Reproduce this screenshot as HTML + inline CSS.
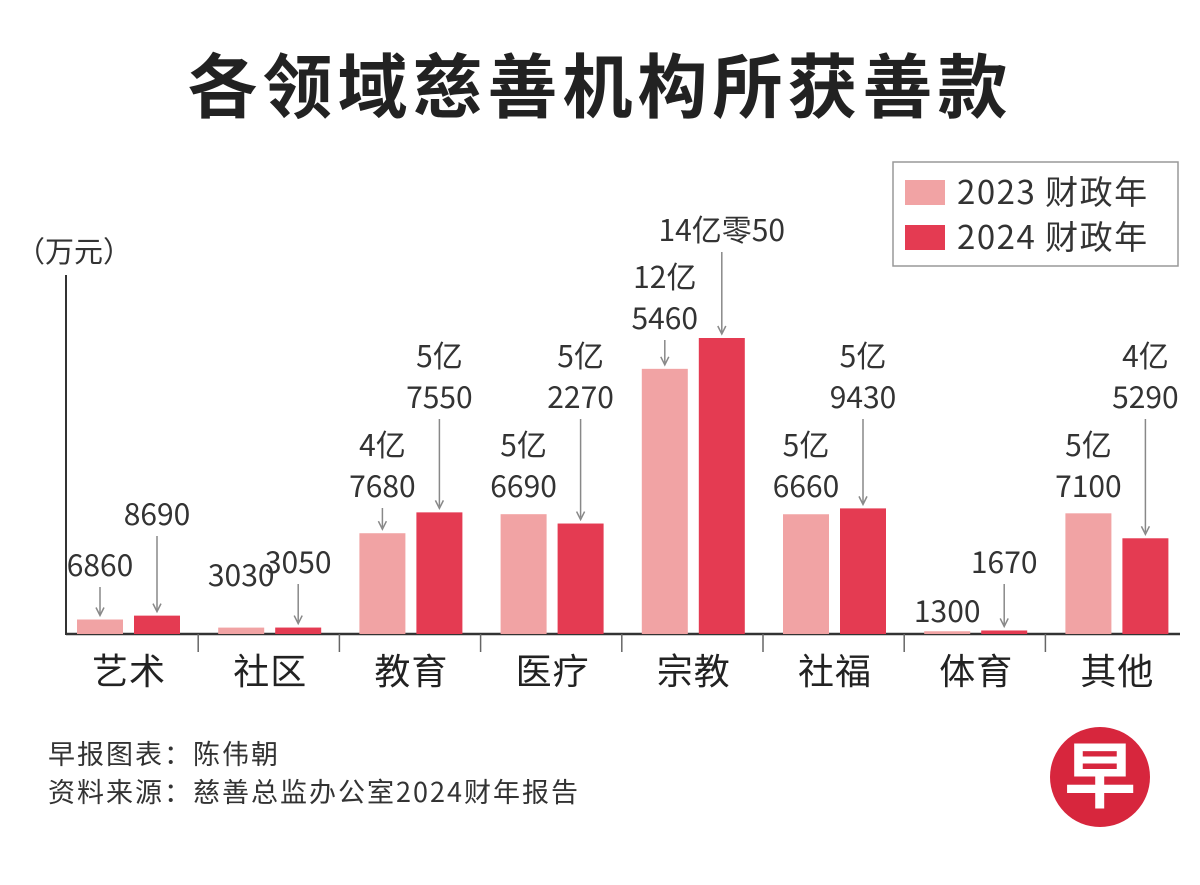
<!DOCTYPE html>
<html><head><meta charset="utf-8">
<style>
body{margin:0;background:#fff;width:1200px;height:880px;overflow:hidden;font-family:"Noto Sans CJK SC",sans-serif;}
</style></head>
<body>
<svg id="chart" width="1200" height="880" viewBox="0 0 1200 880" xmlns="http://www.w3.org/2000/svg" font-family="Noto Sans CJK SC, sans-serif">
<text x="600" y="112" text-anchor="middle" font-size="70" font-weight="bold" letter-spacing="5" fill="#222">各领域慈善机构所获善款</text>
<text x="16" y="262" font-size="29" fill="#333">（万元）</text>
<g>
<rect x="893" y="162" width="285" height="104" fill="#fff" stroke="#999" stroke-width="1.5"/>
<rect x="905" y="180" width="40" height="25" fill="#f1a3a4"/>
<text x="957" y="204" font-size="33" letter-spacing="1.5" fill="#333">2023 财政年</text>
<rect x="905" y="225" width="40" height="25" fill="#e43b52"/>
<text x="957" y="249" font-size="33" letter-spacing="1.5" fill="#333">2024 财政年</text>
</g>
<g id="plot"></g>
<text x="48" y="764" font-size="27" letter-spacing="2" fill="#333">早报图表：陈伟朝</text>
<text x="48" y="802" font-size="27" letter-spacing="2" fill="#333">资料来源：慈善总监办公室2024财年报告</text>
<g>
<circle cx="1100" cy="777" r="50" fill="#d7263d"/>
<text x="1100" y="802" text-anchor="middle" font-size="72" font-weight="bold" fill="#fff">早</text>
</g>
</svg>
<script>
const categories = ["艺术","社区","教育","医疗","宗教","社福","体育","其他"];
const values2023 = [6860, 3030, 47680, 56690, 125460, 56660, 1300, 57100];
const values2024 = [8690, 3050, 57550, 52270, 140050, 59430, 1670, 45290];
// layout: center y of last label line per bar, and arrow visibility
const labelY2023 = [565, 575, 486, 486, 318, 486, 611, 486];
const labelY2024 = [514, 562, 397, 397, 230, 397, 562, 397];
const arrow2023 = [1, 0, 1, 0, 1, 0, 0, 0];
const arrow2024 = [1, 1, 1, 1, 1, 1, 1, 1];

const NS = "http://www.w3.org/2000/svg";
const plot = document.getElementById('plot');
const baseY = 634, axisX = 66, groupStart = 77, groupStep = 141.2, barW = 46, barGap = 57;
const yScale = v => baseY - v * (296 / 140050);
function mk(tag, attrs){const e=document.createElementNS(NS,tag);for(const k in attrs)e.setAttribute(k,attrs[k]);plot.appendChild(e);return e;}
function fmt(v){
  const yi=Math.floor(v/10000), wan=v%10000;
  if(yi===0) return [String(wan)];
  if(wan<1000) return [yi+"亿零"+wan];
  return [yi+"亿", String(wan)];
}
const ya = mk('line',{x1:axisX,y1:275,x2:axisX,y2:baseY+1,stroke:'#333','stroke-width':2});


const xa = mk('line',{x1:axisX,y1:baseY,x2:1180,y2:baseY,stroke:'#333','stroke-width':2.5});


categories.forEach((c,i)=>{
  const gx = groupStart + i*groupStep;
  if(i>0){
    const t = mk('line',{x1:gx-20,y1:baseY,x2:gx-20,y2:652,stroke:'#666','stroke-width':1.5});
    
    
  }
  const lab = mk('text',{x:gx+52,y:684,'text-anchor':'middle','font-size':36,'letter-spacing':1,fill:'#222'});
  lab.textContent = c;
  
  
  [[values2023[i],'#f1a3a4',0,labelY2023[i],'2023',arrow2023[i]],[values2024[i],'#e43b52',barGap,labelY2024[i],'2024',arrow2024[i]]].forEach(([v,col,off,ly,yr,ar])=>{
    const x = gx+off, top = yScale(v);
    const r = mk('rect',{x:x,y:top,width:barW,height:baseY-top,fill:col});
    
    
    const lines = fmt(v), cx = x+barW/2;
    lines.forEach((s,k)=>{
      const t = mk('text',{x:cx,y:ly+11-(lines.length-1-k)*41,'text-anchor':'middle','font-size':30,fill:'#333'});
      t.textContent = s;
      
      
    });
    const a1 = ly+22, a2 = top-4;
    if(ar && a2-a1>10){
      const l = mk('line',{x1:cx,y1:a1,x2:cx,y2:a2-2,stroke:'#888','stroke-width':1.5});
      
      
      const p = mk('path',{d:`M${cx-4} ${a2-8} L${cx} ${a2} L${cx+4} ${a2-8}`,fill:'none',stroke:'#888','stroke-width':1.5});
      
      
    }
  });
});
</script>
</body></html>
